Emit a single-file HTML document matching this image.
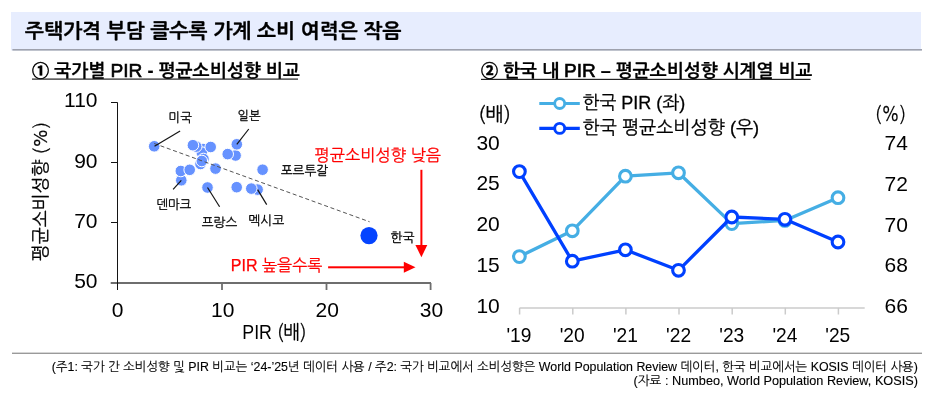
<!DOCTYPE html>
<html lang="ko">
<head>
<meta charset="utf-8">
<style>
html,body{margin:0;padding:0;background:#fff;}
body{width:941px;height:411px;overflow:hidden;position:relative;}
svg{position:absolute;left:0;top:0;display:block;}
text{font-family:"Liberation Sans","NanumGothic",sans-serif;fill:#000;}
.s{stroke:#000;stroke-width:0.28px;}
.s2{stroke:#000;stroke-width:0.2px;}
.s3{stroke:#000;stroke-width:0.12px;}
.r{fill:#FF0000;stroke:#FF0000;stroke-width:0.25px;}
</style>
</head>
<body>
<svg width="941" height="411" viewBox="0 0 941 411">
  <!-- header band -->
  <rect x="11" y="12" width="910" height="38.5" fill="#E7EDFE"/>
  <rect x="12.4" y="49" width="909.6" height="1.6" fill="#9EA1AD"/>
  <text x="25" y="38.3" font-size="20" font-weight="700" stroke="#000" stroke-width="0.35" textLength="376.5" lengthAdjust="spacingAndGlyphs">주택가격 부담 클수록 가계 소비 여력은 작음</text>

  <!-- subtitles -->
  <text class="s2" x="32" y="77" font-size="18" font-weight="700" textLength="268" lengthAdjust="spacingAndGlyphs"><tspan style="font-family:'Noto Sans CJK KR',sans-serif" stroke="#000" stroke-width="0.5" font-size="17">①</tspan> 국가별 <tspan font-size="19" font-weight="400" stroke="#000" stroke-width="0.6">PIR</tspan> - 평균소비성향 비교</text>
  <rect x="32" y="78.5" width="266" height="1.2" fill="#222"/>
  <text class="s2" x="481" y="77" font-size="18" font-weight="700" textLength="331.5" lengthAdjust="spacingAndGlyphs"><tspan style="font-family:'Noto Sans CJK KR',sans-serif" stroke="#000" stroke-width="0.5" font-size="17">②</tspan> 한국 내 <tspan font-size="19" font-weight="400" stroke="#000" stroke-width="0.6">PIR</tspan> – 평균소비성향 시계열 비교</text>
  <rect x="481" y="78.8" width="329.5" height="1.2" fill="#222"/>

  <!-- ===== LEFT CHART ===== -->
  <g stroke="#6E6E6E" stroke-width="1.8" fill="none">
    <line x1="110.7" y1="283" x2="431" y2="283"/>
    <line x1="222" y1="283" x2="222" y2="290"/>
    <line x1="326.5" y1="283" x2="326.5" y2="290"/>
    <line x1="430.6" y1="283" x2="430.6" y2="290"/>
  </g>
  <g stroke="#141414" stroke-width="1" fill="none">
    <line x1="117.5" y1="102.4" x2="117.5" y2="290"/>
    <line x1="111" y1="102.5" x2="117.5" y2="102.5"/>
    <line x1="111" y1="162.5" x2="117.5" y2="162.5"/>
    <line x1="111" y1="222.5" x2="117.5" y2="222.5"/>
  </g>
  <g font-size="21" text-anchor="end">
    <text x="97.5" y="106.6">110</text>
    <text x="97.5" y="167.8">90</text>
    <text x="97.5" y="227.8">70</text>
    <text x="97.5" y="287.8">50</text>
  </g>
  <g font-size="21" text-anchor="middle">
    <text x="117.5" y="316.8">0</text>
    <text x="222.8" y="316.8">10</text>
    <text x="327.2" y="316.8">20</text>
    <text x="431.5" y="316.8">30</text>
  </g>
  <text x="242.3" y="339" font-size="19.5" textLength="64.2" lengthAdjust="spacingAndGlyphs">PIR <tspan class="s" style="font-family:NanumGothic,sans-serif">(배)</tspan></text>
  <text class="s" transform="translate(46.8,261.2) rotate(-90)" font-size="18.5" style="font-family:NanumGothic,sans-serif" textLength="139.3" lengthAdjust="spacingAndGlyphs">평균소비성향 (%)</text>

  <!-- dots -->
  <g fill="#6692FF" stroke="#fff" stroke-width="1">
    <circle cx="154.2" cy="146.3" r="5.8"/>
    <circle cx="203" cy="149" r="5.8"/>
    <circle cx="201.8" cy="152.6" r="5.8"/>
    <circle cx="196.2" cy="146.6" r="5.8"/>
    <circle cx="192.9" cy="145.2" r="5.8"/>
    <circle cx="210.7" cy="147" r="5.8"/>
    <circle cx="203.5" cy="159" r="5.8"/>
    <circle cx="200.5" cy="164" r="5.8"/>
    <circle cx="201.8" cy="161" r="5.8"/>
    <circle cx="181.3" cy="180.3" r="5.8"/>
    <circle cx="180.8" cy="171" r="5.8"/>
    <circle cx="189.7" cy="169.8" r="5.8"/>
    <circle cx="215.5" cy="168.6" r="5.8"/>
    <circle cx="207.5" cy="187.5" r="5.8"/>
    <circle cx="235.6" cy="155.5" r="5.8"/>
    <circle cx="227.7" cy="154.1" r="5.8"/>
    <circle cx="236.8" cy="144.3" r="5.8"/>
    <circle cx="262.6" cy="169.7" r="5.8"/>
    <circle cx="236.7" cy="187.2" r="5.8"/>
    <circle cx="257.6" cy="189.6" r="5.8"/>
    <circle cx="251.3" cy="188.6" r="5.8"/>
  </g>
  <circle cx="369" cy="235.6" r="8.6" fill="#0544FF"/>
  <line x1="154.2" y1="143.5" x2="369.6" y2="221.8" stroke="#555" stroke-width="1" stroke-dasharray="4 2.7"/>
  <!-- leader lines -->
  <g stroke="#141414" stroke-width="1.2">
    <line x1="154.5" y1="146.3" x2="180.1" y2="131"/>
    <line x1="236.8" y1="144.3" x2="248.8" y2="129"/>
    <line x1="181.3" y1="180.3" x2="173.1" y2="189.3"/>
    <line x1="207.5" y1="187.5" x2="219.6" y2="206.8"/>
    <line x1="257.6" y1="189.6" x2="266.7" y2="204.6"/>
  </g>
  <g font-size="12.8" class="s">
    <text x="168.6" y="121.8" textLength="23.2" lengthAdjust="spacingAndGlyphs">미국</text>
    <text x="237.6" y="120.3" textLength="23" lengthAdjust="spacingAndGlyphs">일본</text>
    <text x="280.8" y="175" textLength="47.2" lengthAdjust="spacingAndGlyphs">포르투갈</text>
    <text x="156.5" y="208.8" textLength="34.6" lengthAdjust="spacingAndGlyphs">덴마크</text>
    <text x="201.5" y="226.8" textLength="35.8" lengthAdjust="spacingAndGlyphs">프랑스</text>
    <text x="248.3" y="225.3" textLength="35.8" lengthAdjust="spacingAndGlyphs">멕시코</text>
    <text x="390.5" y="241.7" textLength="23.8" lengthAdjust="spacingAndGlyphs">한국</text>
  </g>
  <!-- red annotations -->
  <text x="314.6" y="161" font-size="16.6" class="r" textLength="126.5" lengthAdjust="spacingAndGlyphs">평균소비성향 낮음</text>
  <rect x="420.4" y="169.8" width="2" height="76" fill="#FF0000"/>
  <polygon points="415.4,245 427.3,245 421.4,257.2" fill="#FF0000"/>
  <text x="230.8" y="271.2" font-size="16.3" class="r" textLength="91.5" lengthAdjust="spacingAndGlyphs">PIR 높을수록</text>
  <rect x="328.1" y="266.3" width="76" height="2" fill="#FF0000"/>
  <polygon points="403.8,261.7 403.8,272.8 415.5,267.3" fill="#FF0000"/>

  <!-- ===== RIGHT CHART ===== -->
  <text class="s" x="478.2" y="121" font-size="19.5" style="font-family:NanumGothic,sans-serif" textLength="32.6" lengthAdjust="spacingAndGlyphs">(배)</text>
  <text class="s" x="875" y="120.8" font-size="20.5" style="font-family:NanumGothic,sans-serif" textLength="30.8" lengthAdjust="spacingAndGlyphs">(%)</text>
  <g font-size="21" text-anchor="end">
    <text x="499.8" y="149.5">30</text>
    <text x="499.8" y="190.3">25</text>
    <text x="499.8" y="231.0">20</text>
    <text x="499.8" y="271.8">15</text>
    <text x="499.8" y="312.5">10</text>
  </g>
  <g font-size="21">
    <text x="884.6" y="150.2">74</text>
    <text x="884.6" y="190.9">72</text>
    <text x="884.6" y="231.7">70</text>
    <text x="884.6" y="272.4">68</text>
    <text x="884.6" y="313.0">66</text>
  </g>
  <g stroke="#CBCBCB" stroke-width="1.5" fill="none">
    <line x1="519.6" y1="307.9" x2="864.7" y2="307.9"/>
    <line x1="519.6" y1="307.9" x2="519.6" y2="314.5"/>
    <line x1="572.8" y1="307.9" x2="572.8" y2="314.5"/>
    <line x1="625.9" y1="307.9" x2="625.9" y2="314.5"/>
    <line x1="679" y1="307.9" x2="679" y2="314.5"/>
    <line x1="732.2" y1="307.9" x2="732.2" y2="314.5"/>
    <line x1="785.3" y1="307.9" x2="785.3" y2="314.5"/>
    <line x1="838.4" y1="307.9" x2="838.4" y2="314.5"/>
  </g>
  <g font-size="21" text-anchor="middle">
    <text x="518.9" y="341.7" textLength="25" lengthAdjust="spacingAndGlyphs">'19</text>
    <text x="572.2" y="341.7" textLength="25" lengthAdjust="spacingAndGlyphs">'20</text>
    <text x="625.4" y="341.7" textLength="25" lengthAdjust="spacingAndGlyphs">'21</text>
    <text x="678.6" y="341.7" textLength="25" lengthAdjust="spacingAndGlyphs">'22</text>
    <text x="731.8" y="341.7" textLength="25" lengthAdjust="spacingAndGlyphs">'23</text>
    <text x="784.9" y="341.7" textLength="25" lengthAdjust="spacingAndGlyphs">'24</text>
    <text x="837.8" y="341.7" textLength="25" lengthAdjust="spacingAndGlyphs">'25</text>
  </g>
  <!-- legend -->
  <line x1="539.3" y1="103.5" x2="579.8" y2="103.5" stroke="#45AEE4" stroke-width="3.2"/>
  <circle cx="559.7" cy="103.5" r="5" fill="#fff" stroke="#45AEE4" stroke-width="2.8"/>
  <line x1="539.3" y1="128.4" x2="579.8" y2="128.4" stroke="#0040FF" stroke-width="3.4"/>
  <circle cx="559.7" cy="128.4" r="5" fill="#fff" stroke="#0040FF" stroke-width="2.9"/>
  <text class="s" x="582.5" y="109" font-size="18.5" textLength="102.8" lengthAdjust="spacingAndGlyphs">한국 PIR (좌)</text>
  <text class="s" x="582.5" y="133.8" font-size="18.5" textLength="176.7" lengthAdjust="spacingAndGlyphs">한국 평균소비성향 (우)</text>
  <!-- series -->
  <polyline points="519.4,256.6 572.3,230.8 625.4,176.2 678.5,172.8 731.8,223.6 784.9,220.4 838,197.7" fill="none" stroke="#45AEE4" stroke-width="3.3" stroke-linejoin="round"/>
  <g fill="#fff" stroke="#45AEE4" stroke-width="3.1">
    <circle cx="519.4" cy="256.6" r="5.85"/>
    <circle cx="572.3" cy="230.8" r="5.85"/>
    <circle cx="625.4" cy="176.2" r="5.85"/>
    <circle cx="678.5" cy="172.8" r="5.85"/>
    <circle cx="731.8" cy="223.6" r="5.85"/>
    <circle cx="784.9" cy="220.4" r="5.85"/>
    <circle cx="838" cy="197.7" r="5.85"/>
  </g>
  <polyline points="519.4,171.6 572.3,261.2 625.4,249.8 678.5,270.3 731.8,217 784.9,219.3 838,242" fill="none" stroke="#0040FF" stroke-width="3.3" stroke-linejoin="round"/>
  <g fill="#fff" stroke="#0040FF" stroke-width="3.1">
    <circle cx="519.4" cy="171.6" r="5.85"/>
    <circle cx="572.3" cy="261.2" r="5.85"/>
    <circle cx="625.4" cy="249.8" r="5.85"/>
    <circle cx="678.5" cy="270.3" r="5.85"/>
    <circle cx="731.8" cy="217" r="5.85"/>
    <circle cx="784.9" cy="219.3" r="5.85"/>
    <circle cx="838" cy="242" r="5.85"/>
  </g>

  <!-- footnote -->
  <rect x="12" y="352.6" width="910" height="1.4" fill="#9A9A9A"/>
  <g font-size="12.5" class="s3">
    <text x="51.8" y="370.5" textLength="866" lengthAdjust="spacingAndGlyphs">(주1: 국가 간 소비성향 및 PIR 비교는 ‘24-’25년 데이터 사용 / 주2: 국가 비교에서 소비성향은 World Population Review 데이터, 한국 비교에서는 KOSIS 데이터 사용)</text>
    <text x="633.4" y="385" textLength="284.5" lengthAdjust="spacingAndGlyphs">(자료 : Numbeo, World Population Review, KOSIS)</text>
  </g>
</svg>
</body>
</html>
